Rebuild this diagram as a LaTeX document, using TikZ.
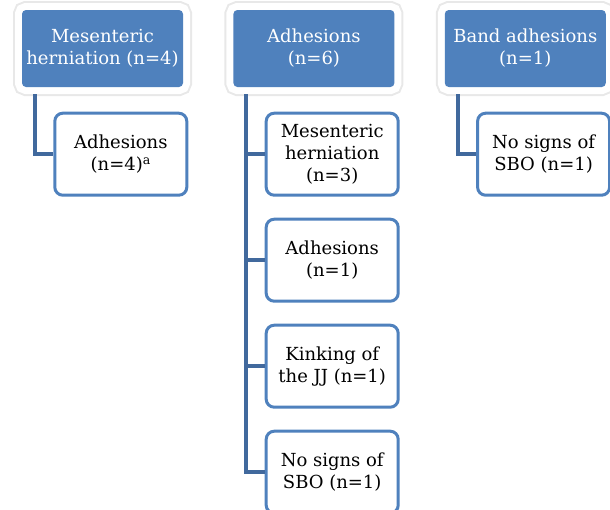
\documentclass[tikz,border=0pt]{standalone}
\usepackage{fontspec}
\setmainfont{DejaVu Serif}
\usetikzlibrary{positioning}

\definecolor{boxblue}{HTML}{4F81BD}
\definecolor{linkblue}{HTML}{41699D}

\tikzset{
	headbox/.style={rectangle, rounded corners=4pt, fill=boxblue, text=white,
		minimum width=161pt, minimum height=77pt, inner sep=0pt, align=center,
		font=\fontsize{18}{22}\selectfont,
		preaction={draw=black!9, line width=18pt},
		preaction={draw=white, line width=14pt}},
	leafbox/.style={rectangle, rounded corners=8pt, draw=boxblue, line width=3pt,
		fill=white, minimum width=132pt, minimum height=82pt, inner sep=0pt,
		align=center, font=\fontsize{18}{22}\selectfont},
	link/.style={draw=linkblue, line width=4pt},
}

\begin{document}
\begin{tikzpicture}

		\useasboundingbox (0,0) rectangle (610pt,-509pt);

		% top row
		\node [headbox] (mes) at (102.5pt,-48.5pt) {Mesenteric\\herniation (n=4)};
		\node [headbox, right=50pt of mes] (adh) {Adhesions\\(n=6)};
		\node [headbox, right=50pt of adh] (band) {Band adhesions\\(n=1)};

		% children
		\node [leafbox, anchor=north west] (mesA) at ([xshift=31.5pt,yshift=-24.5pt]mes.south west) {Adhesions\\(n=4)\textsuperscript{a}};

		\node [leafbox, anchor=north west] (adhA) at ([xshift=31.5pt,yshift=-24.5pt]adh.south west) {Mesenteric\\herniation\\(n=3)};
		\node [leafbox, below=21pt of adhA] (adhB) {Adhesions\\(n=1)};
		\node [leafbox, below=21pt of adhB] (adhC) {Kinking of\\the JJ (n=1)};
		\node [leafbox, below=21pt of adhC] (adhD) {No signs of\\SBO (n=1)};

		\node [leafbox, anchor=north west] (bandA) at ([xshift=31.5pt,yshift=-24.5pt]band.south west) {No signs of\\SBO (n=1)};

		% connectors
		\coordinate (mesT) at ([xshift=13pt,yshift=-7pt]mes.south west);
		\coordinate (adhT) at ([xshift=13pt,yshift=-7pt]adh.south west);
		\coordinate (bandT) at ([xshift=13pt,yshift=-7pt]band.south west);

		\draw [link] (mesT) |- (mesA.west);
		\foreach \c in {adhA,adhB,adhC,adhD}
			\draw [link] (adhT) |- (\c.west);
		\draw [link] (bandT) |- (bandA.west);

\end{tikzpicture}
\end{document}
